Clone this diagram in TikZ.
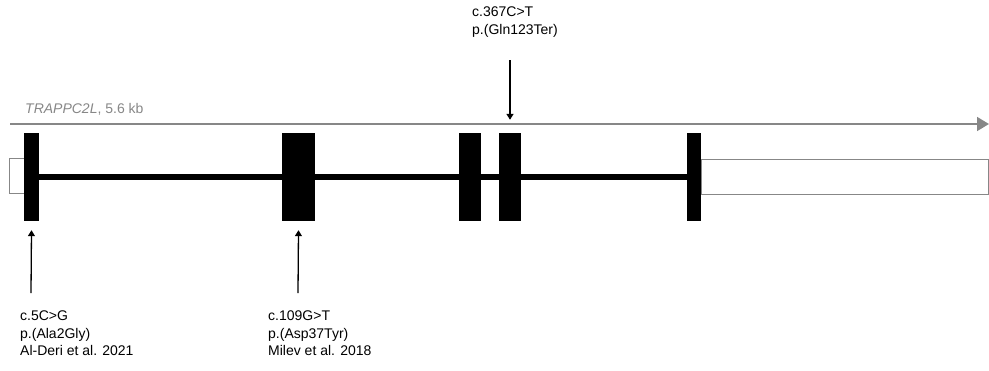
\documentclass[tikz,border=0pt]{standalone}
\usepackage{fontspec}
\setmainfont{Liberation Sans}
\usetikzlibrary{arrows.meta}
\definecolor{genegray}{RGB}{135,135,135}
\tikzset{
  exon/.style={fill=black, inner sep=0pt, minimum height=88pt},
  utr/.style={draw=genegray, line width=0.8pt, fill=white, inner sep=0pt, minimum height=35pt},
  varlabel/.style={anchor=north west, inner sep=0pt, align=left, font=\fontsize{14}{17.5}\selectfont},
  hit/.style={-{Triangle[length=6pt,width=7pt]}, line width=1.3pt}
}
\begin{document}
\begin{tikzpicture}[x=1pt, y=-1pt]
  \useasboundingbox (0,0) rectangle (989,370);
  % gene direction and name
  \coordinate (gstart) at (10,124);
  \coordinate (gend) at (989,124);
  \draw[genegray, line width=1.6pt, -{Triangle[length=12pt,width=14pt]}] (gstart) -- (gend);
  \node[anchor=base west, inner sep=0pt, text=genegray, font=\fontsize{14}{17}\selectfont]
    (gene) at (25,113) {\textit{TRAPPC2L}, 5.6 kb};
  % untranslated ends
  \node[utr, minimum width=15pt] (u5) at (16.5,176) {};
  \node[utr, minimum width=287pt] (u3) at (844.5,176.5) {};
  % exons
  \node[exon, minimum width=15pt] (e1) at (31.5,177) {};
  \node[exon, minimum width=33pt] (e2) at (298.5,177) {};
  \node[exon, minimum width=22pt] (e3) at (470,177) {};
  \node[exon, minimum width=22pt] (e4) at (510,177) {};
  \node[exon, minimum width=14pt] (e5) at (694,177) {};
  % introns
  \begin{scope}[line width=6pt]
    \draw (e1) -- (e2);
    \draw (e2) -- (e3);
    \draw (e3) -- (e4);
    \draw (e4) -- (e5);
  \end{scope}
  % variants
  \node[varlabel] (v3) at (472,7) {c.367C>T\\p.(Gln123Ter)};
  \node[varlabel] (v1) at (20,311) {c.5C>G\\p.(Ala2Gly)\\Al-Deri et al. 2021};
  \node[varlabel] (v2) at (268,311) {c.109G>T\\p.(Asp37Tyr)\\Milev et al. 2018};
  \coordinate (t3) at (510,60);
  \coordinate (t1) at (31,293);
  \coordinate (t2) at (298,293);
  \draw[hit] (t3) -- ([yshift=13pt]e4.north);
  \draw[hit] (t1) -- ([yshift=-9pt]e1.south);
  \draw[hit] (t2) -- ([yshift=-9pt]e2.south);
\end{tikzpicture}
\end{document}
